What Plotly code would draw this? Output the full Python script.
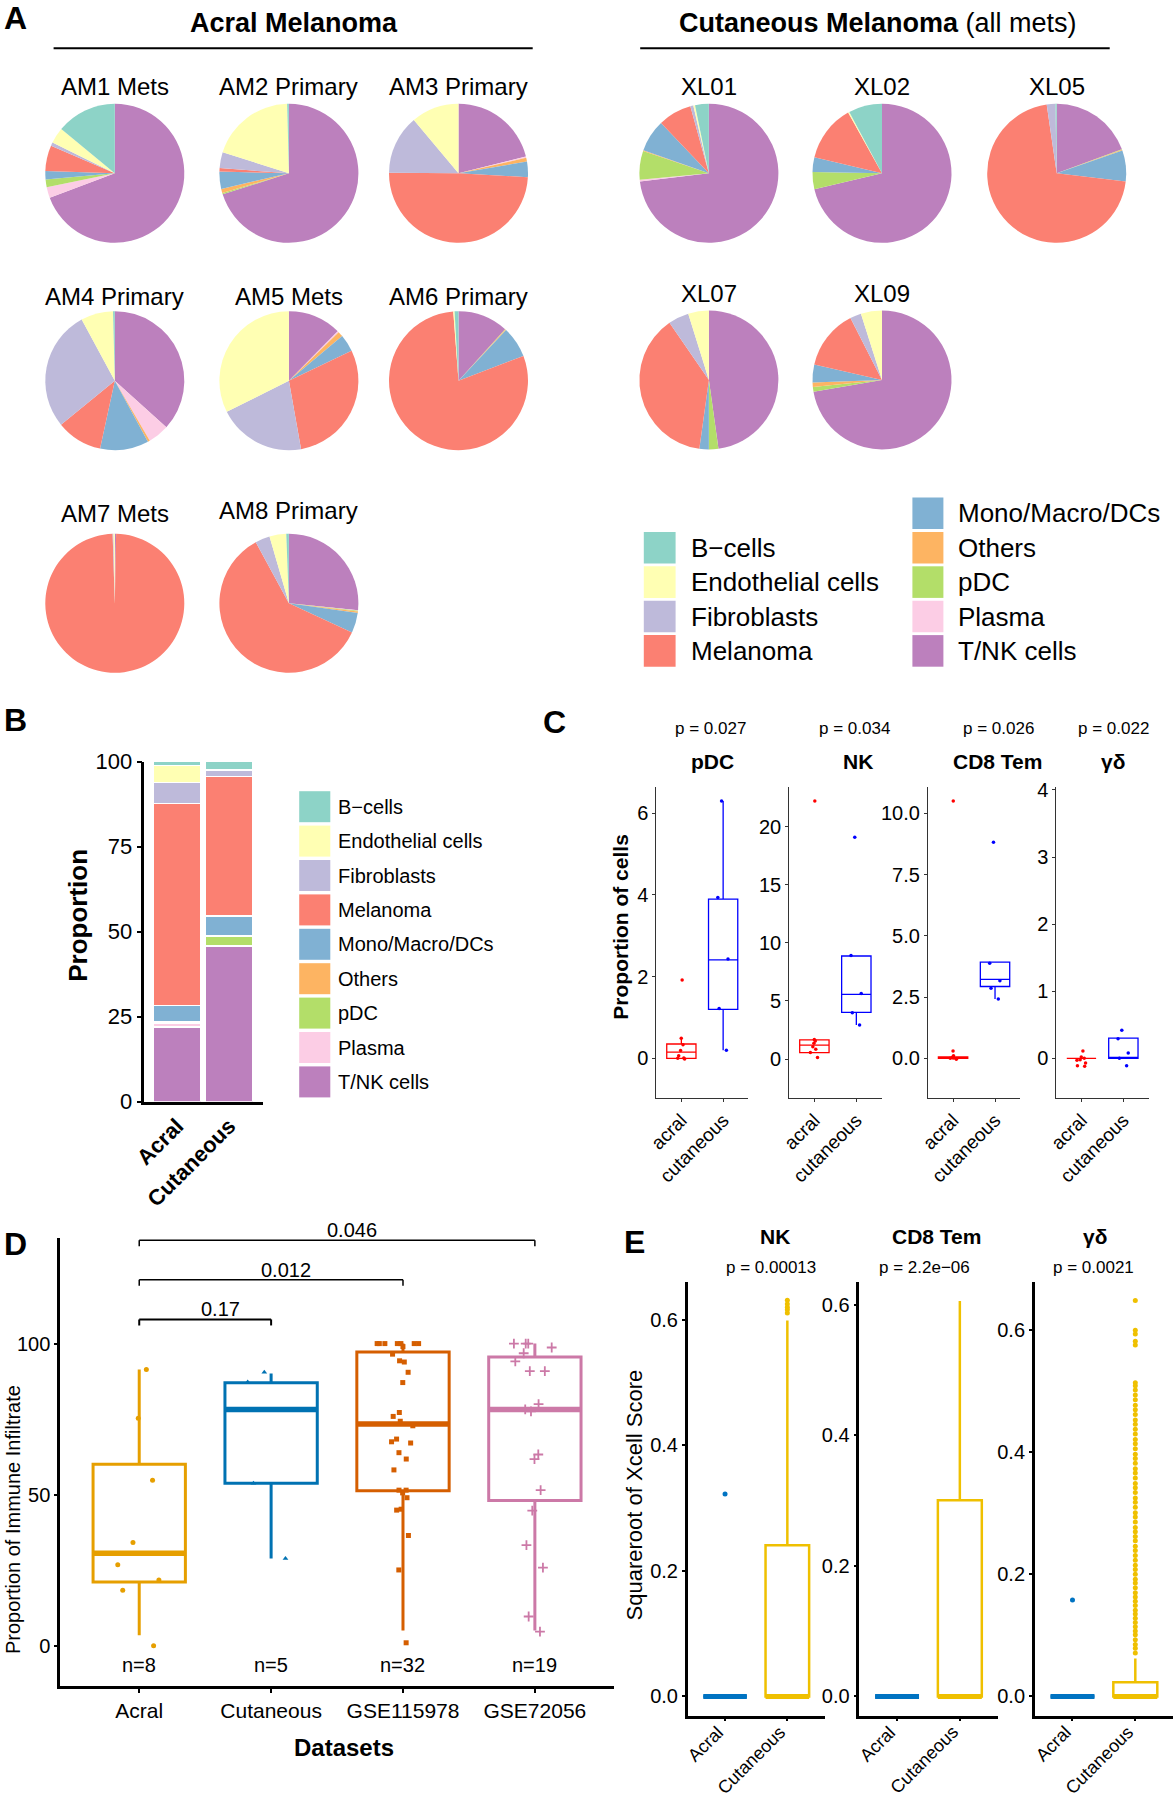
import plotly.graph_objects as go

W, H = 1173, 1800
FONT = "Liberation Sans, Arial, Helvetica, sans-serif"

# ======================= DATA =======================
cell_types = ["B\u2212cells", "Endothelial cells", "Fibroblasts", "Melanoma",
              "Mono/Macro/DCs", "Others", "pDC", "Plasma", "T/NK cells"]
cell_colors = ["#8DD3C7", "#FFFFB3", "#BEBADA", "#FB8072",
               "#80B1D3", "#FDB462", "#B3DE69", "#FCCDE5", "#BC80BD"]

# Panel A - percent of cells per sample (order follows cell_types)
am1_mets = [14.0, 3.7, 0.8, 6.0, 1.9, 0.0, 1.8, 2.5, 69.3]
am2_primary = [0.4, 19.7, 3.7, 0.8, 4.0, 1.0, 0.3, 0.0, 70.1]
am3_primary = [0.0, 11.1, 13.8, 49.2, 3.6, 0.9, 0.0, 0.3, 21.1]
am4_primary = [0.4, 7.5, 28.0, 10.7, 11.3, 0.5, 0.0, 4.9, 36.7]
am5_mets = [0.0, 32.4, 20.4, 29.3, 4.0, 1.2, 0.0, 0.3, 12.4]
am6_primary = [0.9, 0.3, 0.0, 79.6, 7.2, 0.2, 0.1, 0.0, 11.7]
am7_mets = [0.0, 0.3, 0.2, 99.2, 0.0, 0.0, 0.0, 0.0, 0.3]
am8_primary = [0.6, 3.9, 3.4, 60.2, 4.7, 0.3, 0.2, 0.1, 26.6]
xl01 = [3.2, 0.4, 0.7, 7.8, 7.5, 0.2, 6.7, 0.4, 73.1]
xl02 = [7.8, 0.3, 0.0, 13.2, 3.4, 0.0, 4.0, 0.0, 71.3]
xl05 = [0.3, 0.0, 2.0, 70.8, 7.2, 0.2, 0.1, 0.0, 19.4]
xl07 = [0.0, 4.8, 4.8, 38.2, 2.2, 0.0, 2.2, 0.0, 47.8]
xl09 = [0.0, 4.9, 2.6, 13.9, 4.2, 1.0, 1.1, 0.0, 72.3]
sample_names = ["AM1 Mets", "AM2 Primary", "AM3 Primary", "AM4 Primary",
                "AM5 Mets", "AM6 Primary", "AM7 Mets", "AM8 Primary",
                "XL01", "XL02", "XL05", "XL07", "XL09"]
sample_values = [am1_mets, am2_primary, am3_primary, am4_primary, am5_mets,
                 am6_primary, am7_mets, am8_primary, xl01, xl02, xl05, xl07, xl09]

# Panel B - pooled composition (order follows cell_types)
b_groups = ["Acral", "Cutaneous"]
acral_comp = [1.0, 5.1, 6.2, 59.5, 4.6, 0.4, 0.2, 1.0, 22.0]
cutaneous_comp = [2.2, 0.5, 1.7, 41.0, 5.8, 0.1, 2.8, 0.1, 45.8]
b_ticks = [0, 25, 50, 75, 100]

# Panel C - proportion of cells (%)
c_groups = ["acral", "cutaneous"]
c_titles = ["pDC", "NK", "CD8 Tem", "\u03b3\u03b4"]
c_pvals = ["p = 0.027", "p = 0.034", "p = 0.026", "p = 0.022"]
c_acral_points = [[1.92, 0.49, 0.33, 0.19, 0.06, 0.0, -0.02, 0.01],
                  [22.2, 1.69, 1.55, 1.35, 1.06, 0.83, 0.57, 0.14],
                  [10.5, 0.3, 0.1, 0.05, 0.02, 0.0, -0.04, 0.01],
                  [0.11, 0.02, 0.0, -0.02, -0.07, -0.11, -0.12, -0.03]]
c_cut_points = [[6.3, 3.94, 2.43, 1.22, 0.2],
                [19.1, 8.92, 5.65, 3.99, 2.93],
                [8.82, 3.88, 3.16, 2.86, 2.42],
                [0.42, 0.29, 0.08, 0.0, -0.11]]
# [lower whisker, q1, median, q3, upper whisker]
c_acral_stats = [[0.0, 0.0, 0.15, 0.35, 0.49],
                 [0.55, 0.55, 1.2, 1.65, 1.69],
                 [0.0, 0.0, 0.02, 0.06, 0.06],
                 [0.0, 0.0, 0.0, 0.0, 0.0]]
c_cut_stats = [[0.2, 1.2, 2.41, 3.9, 6.3],
               [2.93, 4.02, 5.57, 8.87, 8.92],
               [2.42, 2.93, 3.22, 3.92, 3.92],
               [0.0, 0.0, 0.0, 0.3, 0.3]]
c_ranges = [[-0.965, 6.637], [-3.33, 23.39], [-1.61, 11.06], [-0.587, 4.04]]
c_tickvals = [[0, 2, 4, 6], [0, 5, 10, 15, 20], [0, 2.5, 5, 7.5, 10], [0, 1, 2, 3, 4]]
c_tickfmt = ["d", "d", ".1f", "d"]

# Panel D - proportion of immune infiltrate
d_groups = ["Acral", "Cutaneous", "GSE115978", "GSE72056"]
d_colors = ["#E69F00", "#0072B2", "#D55E00", "#CC79A7"]
d_symbols = ["circle", "triangle-up", "square", "cross-thin"]
d_points = [
    [91.4, 75.3, 54.8, 34.2, 26.8, 21.8, 18.4, 0.0],
    [90.5, 87.3, 78.2, 53.8, 28.9],
    [100, 100, 100, 100, 100, 100, 100, 99.0, 96.5, 94.3, 93.9, 90.5, 87.1,
     77.2, 75.9, 74.3, 72.8, 68.4, 67.5, 67.1, 63.9, 61.8, 58.2, 51.5, 51.5,
     50.6, 49.0, 45.2, 44.9, 36.5, 25.1, 1.0],
    [100, 100, 100, 98.7, 96.8, 94.1, 90.9, 90.9, 80.0, 78.2, 77.6, 63.3,
     61.8, 51.5, 44.7, 33.3, 25.9, 9.7, 4.7],
]
d_stats = [[3.5, 21.1, 30.6, 60.1, 91.4],
           [28.9, 53.8, 78.2, 87.0, 90.1],
           [5.1, 51.3, 73.4, 97.2, 100.0],
           [5.1, 48.1, 78.2, 95.6, 100.0]]
d_counts = ["n=8", "n=5", "n=32", "n=19"]
d_comparisons = [("Acral", "Cutaneous", "0.17"),
                 ("Acral", "GSE115978", "0.012"),
                 ("Acral", "GSE72056", "0.046")]
d_ticks = [0, 50, 100]

# Panel E - sqrt of xCell score
e_groups = ["Acral", "Cutaneous"]
e_colors = ["#0073C2", "#EFC000"]
e_titles = ["NK", "CD8 Tem", "\u03b3\u03b4"]
e_pvals = ["p = 0.00013", "p = 2.2e\u221206", "p = 0.0021"]
e_acral_stats = [[0, 0, 0, 0, 0], [0, 0, 0, 0, 0], [0, 0, 0, 0, 0]]
e_cut_stats = [[0, 0, 0, 0.241, 0.599],
               [0, 0, 0, 0.3006, 0.606],
               [0, 0, 0, 0.023, 0.062]]
e_acral_outliers = [[0.3226], [], [0.158]]
e_cut_outliers = [
    [0.611, 0.616, 0.620, 0.625, 0.631],
    [],
    [0.071, 0.079, 0.085, 0.093, 0.101, 0.107, 0.114, 0.121, 0.128, 0.135,
     0.141, 0.149, 0.156, 0.163, 0.170, 0.178, 0.186, 0.192, 0.200, 0.208,
     0.215, 0.223, 0.231, 0.239, 0.246, 0.255, 0.262, 0.270, 0.277, 0.286,
     0.294, 0.301, 0.310, 0.318, 0.325, 0.334, 0.342, 0.349, 0.358, 0.366,
     0.373, 0.382, 0.390, 0.397, 0.406, 0.414, 0.421, 0.430, 0.438, 0.446,
     0.453, 0.462, 0.470, 0.477, 0.486, 0.494, 0.502, 0.509, 0.514,
     0.576, 0.582, 0.594, 0.600, 0.649],
]
e_ranges = [[-0.0304, 0.661], [-0.0293, 0.636], [-0.0313, 0.68]]
e_ticks = [0, 0.2, 0.4, 0.6]

# ======================= LAYOUT HELPERS =======================
def px_x(v):
    return v / W


def px_y(v):
    return 1 - v / H


fig = go.Figure()
annotations = []
shapes = []


def ann(text, x, y, size, bold=False, xanchor="center", yanchor="middle",
        angle=0, color="black", xref="paper", yref="paper", xshift=0, yshift=0):
    if bold:
        text = "<b>" + text + "</b>"
    d = dict(text=text, showarrow=False, font=dict(size=size, color=color, family=FONT),
             xanchor=xanchor, yanchor=yanchor, textangle=angle,
             xref=xref, yref=yref, xshift=xshift, yshift=yshift)
    d["x"] = px_x(x) if xref == "paper" else x
    d["y"] = px_y(y) if yref == "paper" else y
    annotations.append(d)


def axis(dom, horizontal, anchor, **kw):
    if horizontal:
        d = [px_x(dom[0]), px_x(dom[1])]
    else:
        d = [px_y(dom[1]), px_y(dom[0])]
    a = dict(domain=d, anchor=anchor, showgrid=False, zeroline=False,
             showline=True, linecolor="black", ticks="outside", tickcolor="black",
             automargin=False, fixedrange=True,
             tickfont=dict(family=FONT, color="black"))
    a.update(kw)
    return a


axes = {}

# ======================= PANEL A =======================
pie_order = [8, 7, 6, 5, 4, 3, 2, 1, 0]   # clockwise from 12 o'clock
pie_pos = [(114.8, 173.3, 86), (288.9, 173.3, 86), (458.5, 173.3, 86),
           (114.8, 380.7, 296.7), (288.9, 380.7, 296.7), (458.5, 380.7, 296.7),
           (114.8, 603.3, 513.3), (288.9, 603.3, 510),
           (708.9, 173.3, 86), (882.0, 173.3, 86), (1056.7, 173.3, 86),
           (708.9, 380.0, 293.3), (882.0, 380.0, 293.3)]
R = 69.5
for name, vals, (cx, cy, ly) in zip(sample_names, sample_values, pie_pos):
    fig.add_trace(go.Pie(
        values=[vals[i] for i in pie_order],
        labels=[cell_types[i] for i in pie_order],
        marker=dict(colors=[cell_colors[i] for i in pie_order], line=dict(width=0)),
        sort=False, direction="clockwise", rotation=0, textinfo="none",
        hoverinfo="label+percent", showlegend=False,
        domain=dict(x=[px_x(cx - R), px_x(cx + R)], y=[px_y(cy + R), px_y(cy - R)])))
    ann(name, cx, ly, 24)

ann("A", 15.3, 18.3, 32, bold=True)
ann("Acral Melanoma", 293.5, 23.3, 27, bold=True)
ann("<b>Cutaneous Melanoma</b> (all mets)", 877.7, 23.3, 27)
for x0, x1 in [(53.6, 532.7), (640.2, 1109.7)]:
    shapes.append(dict(type="line", xref="paper", yref="paper", x0=px_x(x0), x1=px_x(x1),
                       y0=px_y(48.3), y1=px_y(48.3), line=dict(color="black", width=2)))

# legend A
leg_a = [(643.8, 675.6, 688.8, [0, 1, 2, 3], 547.7),
         (912.4, 943.4, 956.2, [4, 5, 6, 7, 8], 513.3)]
for sx0, sx1, tx, idxs, y0 in leg_a:
    for k, i in enumerate(idxs):
        yc = y0 + k * 34.4
        shapes.append(dict(type="rect", xref="paper", yref="paper",
                           x0=px_x(sx0), x1=px_x(sx1), y0=px_y(yc + 15.8), y1=px_y(yc - 15.8),
                           fillcolor=cell_colors[i], line=dict(width=0)))
        ann(cell_types[i], tx, yc, 26, xanchor="left")

# ======================= PANEL B =======================
for i in reversed(range(len(cell_types))):
    fig.add_trace(go.Bar(x=b_groups, y=[acral_comp[i], cutaneous_comp[i]],
                         marker=dict(color=cell_colors[i], line=dict(color="white", width=1.2)),
                         width=0.9, name=cell_types[i], showlegend=False,
                         xaxis="x", yaxis="y", hoverinfo="name+y"))
axes["xaxis"] = axis((144.4, 263.0), True, "y", type="category", categoryarray=b_groups,
                     range=[-0.63, 1.65], linewidth=2.5, ticks="", tickangle=-45,
                     tickvals=b_groups, ticktext=["<b>%s</b>" % g for g in b_groups])
axes["xaxis"]["tickfont"]["size"] = 22
axes["yaxis"] = axis((761.7, 1101.7), False, "x", range=[0, 100], tickvals=b_ticks,
                     linewidth=2.5, ticklen=5, tickwidth=2)
axes["yaxis"]["tickfont"]["size"] = 22
ann("B", 15.2, 720, 32, bold=True)
ann("Proportion", 77.8, 915, 26, bold=True, angle=-90)
for k, i in enumerate(range(len(cell_types))):
    yc = 806.7 + k * 34.4
    shapes.append(dict(type="rect", xref="paper", yref="paper",
                       x0=px_x(299.2), x1=px_x(330.3), y0=px_y(yc + 15.5), y1=px_y(yc - 15.5),
                       fillcolor=cell_colors[i], line=dict(width=0)))
    ann(cell_types[i], 335.7, yc, 20, xanchor="left")

# ======================= PANEL C =======================
c_xdoms = [(656.3, 748.2), (789.2, 881.5), (927.9, 1020.2), (1056.3, 1148.5)]
c_title_x = [712.5, 858.1, 997.6, 1113.3]
c_p_x = [710.5, 854.0, 998.4, 1113.3]
c_cols = ["#FF0000", "#0000FF"]
for j in range(4):
    n = j + 2
    xa, ya = "x%d" % n, "y%d" % n
    for g, stats, pts in [(0, c_acral_stats[j], c_acral_points[j]),
                          (1, c_cut_stats[j], c_cut_points[j])]:
        lo, q1, med, q3, hi = stats
        fig.add_trace(go.Box(x=[c_groups[g]], q1=[q1], median=[med], q3=[q3],
                             lowerfence=[lo], upperfence=[hi], width=0.7,
                             line=dict(color=c_cols[g], width=1.3),
                             fillcolor="rgba(255,255,255,0)", whiskerwidth=0,
                             boxpoints=False, xaxis=xa, yaxis=ya, showlegend=False,
                             hoverinfo="skip"))
        fig.add_trace(go.Box(x=[c_groups[g]] * len(pts), y=pts, boxpoints="all",
                             jitter=0.6, pointpos=0, width=0.5,
                             line=dict(width=0, color="rgba(0,0,0,0)"),
                             fillcolor="rgba(0,0,0,0)",
                             marker=dict(color=c_cols[g], size=3.5),
                             xaxis=xa, yaxis=ya, showlegend=False, hoverinfo="y"))
    axes["xaxis%d" % n] = axis(c_xdoms[j], True, ya, type="category", categoryarray=c_groups,
                              range=[-0.6, 1.6], linecolor="#333333", linewidth=1,
                              ticklen=3, tickcolor="#333333", tickangle=-45)
    axes["xaxis%d" % n]["tickfont"]["size"] = 19
    axes["yaxis%d" % n] = axis((787.3, 1097.7), False, xa, range=c_ranges[j],
                              tickvals=c_tickvals[j], tickformat=c_tickfmt[j],
                              linecolor="#333333", linewidth=1, ticklen=3,
                              tickcolor="#333333")
    axes["yaxis%d" % n]["tickfont"]["size"] = 20
    ann(c_titles[j], c_title_x[j], 761.7, 21, bold=True)
    ann(c_pvals[j], c_p_x[j], 728.3, 17)
ann("C", 554.6, 721.7, 32, bold=True)
ann("Proportion of cells", 621.0, 926.7, 21, bold=True, angle=-90)

# ======================= PANEL D =======================
for i, g in enumerate(d_groups):
    lo, q1, med, q3, hi = d_stats[i]
    fig.add_trace(go.Box(x=[g], q1=[q1], median=[med], q3=[q3], lowerfence=[lo],
                         upperfence=[hi], width=0.7,
                         line=dict(color=d_colors[i], width=3),
                         fillcolor="rgba(255,255,255,0)", whiskerwidth=0,
                         boxpoints=False, xaxis="x6", yaxis="y6", showlegend=False,
                         hoverinfo="skip"))
    shapes.append(dict(type="line", xref="x6", yref="y6", x0=i - 0.35, x1=i + 0.35,
                       y0=med, y1=med, line=dict(color=d_colors[i], width=5.5)))
    mk = dict(color=d_colors[i], size=5 if i != 3 else 7, symbol=d_symbols[i])
    if d_symbols[i] == "cross-thin":
        mk["line"] = dict(color=d_colors[i], width=1.8)
    fig.add_trace(go.Box(x=[g] * len(d_points[i]), y=d_points[i], boxpoints="all",
                         jitter=0.6, pointpos=0, width=0.7,
                         line=dict(width=0, color="rgba(0,0,0,0)"),
                         fillcolor="rgba(0,0,0,0)", marker=mk,
                         xaxis="x6", yaxis="y6", showlegend=False, hoverinfo="y"))
    ann(d_counts[i], i, -6.3, 20, xref="x6", yref="y6")

# significance brackets
base_level, step = 108.0, 13.1
for k, (ga, gb, lab) in enumerate(d_comparisons):
    ia, ib = d_groups.index(ga), d_groups.index(gb)
    yl = base_level + k * step
    lw = 1.5 if k else 2
    for (x0, y0, x1, y1) in [(ia, yl, ib, yl), (ia, yl, ia, yl - 2), (ib, yl, ib, yl - 2)]:
        shapes.append(dict(type="line", xref="x6", yref="y6", x0=x0, x1=x1, y0=y0, y1=y1,
                           line=dict(color="black", width=lw)))
    ann(lab, (ia + ib) / 2, yl, 20, xref="x6", yref="y6", yanchor="bottom",
        xshift=15, yshift=-3)

axes["xaxis6"] = axis((60.1, 614.0), True, "y6", type="category", categoryarray=d_groups,
                      range=[-0.6, 3.6], linewidth=2.5, ticklen=4, tickwidth=1.5)
axes["xaxis6"]["tickfont"]["size"] = 21
axes["yaxis6"] = axis((1237.5, 1686.0), False, "x6", range=[-13.3, 135.1],
                      tickvals=d_ticks, linewidth=2.5, ticklen=3, tickwidth=1.5)
axes["yaxis6"]["tickfont"]["size"] = 20
ann("D", 15.3, 1244, 32, bold=True)
ann("Datasets", 344.4, 1747.3, 24, bold=True)
ann("Proportion of Immune Infiltrate", 12.5, 1519.6, 20, angle=-90)

# ======================= PANEL E =======================
e_xdoms = [(687.7, 824.7), (859.4, 997.5), (1034.8, 1173.0)]
e_title_x = [775.4, 936.1, 1095.0]
e_p_x = [770.6, 924.1, 1093.2]
for j in range(3):
    n = j + 7
    xa, ya = "x%d" % n, "y%d" % n
    for g, stats, outs in [(0, e_acral_stats[j], e_acral_outliers[j]),
                           (1, e_cut_stats[j], e_cut_outliers[j])]:
        lo, q1, med, q3, hi = stats
        fig.add_trace(go.Box(x=[e_groups[g]], q1=[q1], median=[med], q3=[q3],
                             lowerfence=[lo], upperfence=[hi], width=0.7,
                             line=dict(color=e_colors[g], width=2.5),
                             fillcolor="rgba(255,255,255,0)", whiskerwidth=0,
                             boxpoints=False, xaxis=xa, yaxis=ya, showlegend=False,
                             hoverinfo="skip"))
        shapes.append(dict(type="line", xref=xa, yref=ya, x0=g - 0.35, x1=g + 0.35,
                           y0=med, y1=med, line=dict(color=e_colors[g], width=5)))
        if outs:
            fig.add_trace(go.Scatter(x=[e_groups[g]] * len(outs), y=outs, mode="markers",
                                     marker=dict(color=e_colors[g], size=5),
                                     xaxis=xa, yaxis=ya, showlegend=False, hoverinfo="y"))
        # rotated category label, anchored at its tick just under the axis
        ann(e_groups[g], g, 1719.5, 18, xref=xa, yref="paper", xanchor="right",
            yanchor="top", angle=-45, xshift=5)
    axes["xaxis%d" % n] = axis(e_xdoms[j], True, ya, type="category", categoryarray=e_groups,
                              range=[-0.6, 1.6], linewidth=2.5, ticklen=3, tickwidth=1.5,
                              showticklabels=False)
    axes["yaxis%d" % n] = axis((1281.5, 1715.5), False, xa, range=e_ranges[j],
                              tickvals=e_ticks, tickformat=".1f", linewidth=2.5,
                              ticklen=3, tickwidth=1.5)
    axes["yaxis%d" % n]["tickfont"]["size"] = 20
    ann(e_titles[j], e_title_x[j], 1236.4, 21, bold=True)
    ann(e_pvals[j], e_p_x[j], 1267.0, 17)
ann("E", 634.7, 1242, 32, bold=True)
ann("Squareroot of Xcell Score", 634.7, 1494.7, 22, angle=-90)

fig.update_layout(width=W, height=H, autosize=False,
                  margin=dict(l=0, r=0, t=0, b=0, pad=0),
                  paper_bgcolor="white", plot_bgcolor="white",
                  font=dict(family=FONT, color="black"),
                  showlegend=False, boxmode="overlay", barmode="stack", bargap=0.1,
                  annotations=annotations, shapes=shapes, **axes)
fig.write_html("out.html", config={"displayModeBar": False},
               post_script="document.body.style.margin='0';document.body.style.padding='0';")
